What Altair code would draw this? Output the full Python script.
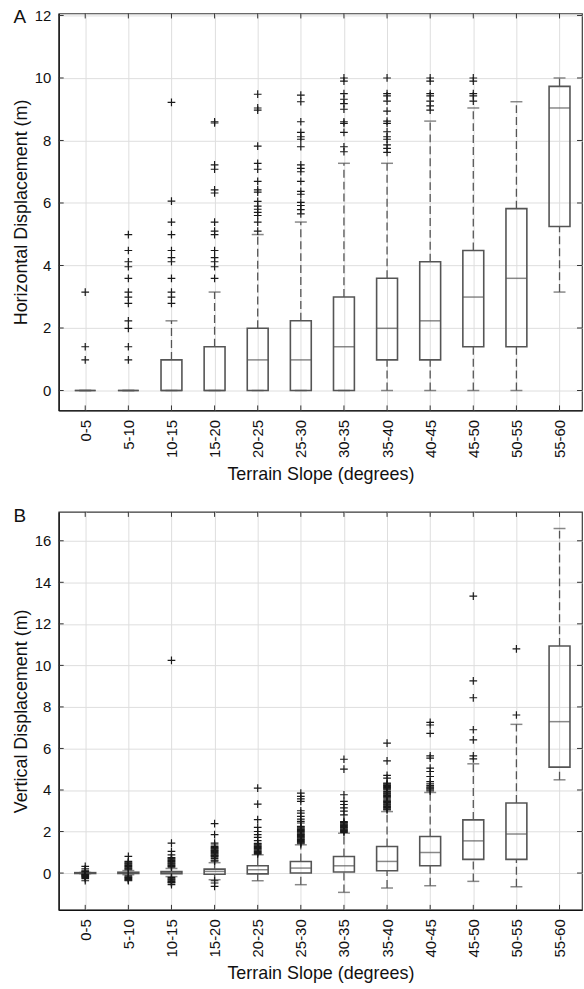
import altair as alt
import pandas as pd

cats = ["0-5", "5-10", "10-15", "15-20", "20-25", "25-30",
        "30-35", "35-40", "40-45", "45-50", "50-55", "55-60"]

# Panel A: horizontal displacement (m)
h_q1 = [0, 0, 0, 0, 0, 0, 0, 0.98, 0.98, 1.4, 1.4, 5.25]
h_med = [0, 0, 0, 0, 0.98, 0.98, 1.4, 1.99, 2.23, 2.99, 3.59, 9.04]
h_q3 = [0, 0, 0.98, 1.4, 1.99, 2.23, 2.99, 3.59, 4.12, 4.48, 5.82, 9.73]
h_wlo = [0, 0, 0, 0, 0, 0, 0, 0, 0, 0, 0, 3.15]
h_whi = [0, 0, 2.23, 3.15, 4.99, 5.39, 7.27, 7.27, 8.62, 9.04, 9.24, 10.0]
h_out = [
    [3.15, 1.4, 0.98],
    [4.99, 4.48, 4.12, 3.96, 3.59, 3.15, 2.99, 2.79, 2.23, 1.99, 1.40, 0.98],
    [9.22, 6.06, 5.39, 4.99, 4.48, 4.25, 4.12, 3.59, 3.15, 2.99, 2.79],
    [8.6, 8.56, 7.22, 7.08, 6.42, 6.32, 5.39, 5.1, 4.99, 4.48, 4.25, 4.12, 3.96, 3.59],
    [9.48, 9.04, 8.97, 7.82, 7.27, 7.08, 6.69, 6.42, 6.35, 6.05, 5.9, 5.8, 5.7, 5.6, 5.39, 5.1],
    [9.45, 9.24, 8.6, 8.26, 8.12, 8.04, 7.8, 7.22, 7.11, 7.0, 6.69, 6.37, 6.28, 6.02, 5.92, 5.79, 5.65],
    [10.0, 9.9, 9.5, 9.32, 9.18, 9.0, 8.6, 8.55, 8.26, 7.8, 7.64],
    [10.0, 9.5, 9.43, 9.26, 8.94, 8.62, 8.55, 8.28, 8.12, 8.04, 7.86, 7.75, 7.62],
    [10.0, 9.9, 9.5, 9.43, 9.26, 9.11, 8.97],
    [10.0, 9.9, 9.5, 9.43, 9.26],
    [],
    [],
]
h_ticks = [0, 2, 4, 6, 8, 10, 12]

# Panel B: vertical displacement (m)
v_q1 = [-0.02, -0.02, -0.03, -0.06, -0.04, 0.0, 0.05, 0.11, 0.35, 0.66, 0.66, 5.1]
v_med = [0.0, 0.0, 0.02, 0.08, 0.16, 0.24, 0.35, 0.56, 0.99, 1.55, 1.88, 7.29]
v_q3 = [0.02, 0.04, 0.07, 0.19, 0.35, 0.56, 0.8, 1.28, 1.76, 2.56, 3.37, 10.93]
v_wlo = [-0.03, -0.08, -0.17, -0.32, -0.37, -0.56, -0.93, -0.72, -0.61, -0.4, -0.66, 4.49]
v_whi = [0.03, 0.12, 0.22, 0.5, 0.88, 1.36, 1.92, 2.96, 3.88, 5.26, 7.16, 16.59]
v_out = [
    [0.32, 0.2, 0.11, 0.08, 0.05, -0.05, -0.08, -0.11, -0.14, -0.17, -0.21,
     -0.27, -0.37],
    [0.8, 0.56, 0.52, 0.48, 0.44, 0.4, 0.36, 0.32, 0.28, 0.24, 0.2, 0.16,
     -0.14, -0.18, -0.22, -0.26, -0.3, -0.34, -0.37],
    [10.24, 1.44, 1.04, 0.88, 0.75, 0.72, 0.68, 0.64, 0.6, 0.56, 0.52, 0.48,
     0.44, 0.4, 0.36, 0.32, 0.28, -0.21, -0.25, -0.29, -0.33, -0.37, -0.41,
     -0.45, -0.48, -0.56],
    [2.38, 1.85, 1.44, 1.35, 1.28, 1.24, 1.2, 1.16, 1.12, 1.08, 1.04, 1.0, 0.96,
     0.92, 0.88, 0.84, 0.8, 0.76, 0.7, 0.62, 0.57, -0.37, -0.48, -0.64],
    [4.09, 3.32, 2.57, 2.2, 2.0, 1.85, 1.72, 1.56, 1.43, 1.39, 1.35, 1.31, 1.27,
     1.23, 1.19, 1.15, 1.11, 1.07, 1.03, 0.99, 0.95, 0.91],
    [3.85, 3.69, 3.57, 3.45, 3.0, 2.89, 2.73, 2.6, 2.49, 2.41, 2.25, 2.21, 2.17,
     2.13, 2.09, 2.05, 2.01, 1.97, 1.93, 1.89, 1.85, 1.81, 1.77, 1.73, 1.69,
     1.65, 1.61, 1.57, 1.53, 1.49, 1.45, 1.41],
    [5.48, 5.0, 3.77, 3.45, 3.3, 3.14, 2.98, 2.8, 2.48, 2.44, 2.4, 2.36, 2.32,
     2.28, 2.24, 2.2, 2.16, 2.12, 2.08, 2.04, 2.0, 1.96],
    [6.26, 5.4, 4.7, 4.57, 4.33, 4.29, 4.25, 4.21, 4.17, 4.13, 4.09, 4.05, 4.01,
     3.93, 3.89, 3.85, 3.81, 3.77, 3.73, 3.69, 3.65, 3.61, 3.52, 3.48, 3.44,
     3.4, 3.36, 3.32, 3.28, 3.24, 3.2, 3.16, 3.12, 3.08, 3.04],
    [7.26, 7.13, 6.73, 5.64, 5.53, 5.05, 4.89, 4.65, 4.4, 4.3, 4.22, 4.15, 4.1,
     4.05, 4.0, 3.95],
    [13.33, 9.25, 8.44, 6.9, 6.41, 5.64, 5.5],
    [10.79, 7.61],
    [],
]
v_ticks = [0, 2, 4, 6, 8, 10, 12, 14, 16]

FONT = "Liberation Sans"
BOXC = "#555555"
W = 526
X_DOMAIN = [0.5, 12.406]
label_expr = "[" + ",".join('"%s"' % c for c in cats) + "][datum.value - 1]"


def panel(q1, med, q3, wlo, whi, outs, dom, ticks, ytitle, letter, H):
    idx = list(range(1, len(cats) + 1))
    stats = pd.DataFrame({"i": idx, "q1": q1, "med": med, "q3": q3,
                          "wlo": wlo, "whi": whi})
    orows = [(i, v) for i, vals in zip(idx, outs) for v in vals]
    odf = pd.DataFrame(orows, columns=["i", "v"])
    tdf = pd.DataFrame({"t": ticks})
    cdf = pd.DataFrame({"i": idx})

    xsc = alt.Scale(domain=X_DOMAIN, nice=False, zero=False)
    ysc = alt.Scale(domain=dom, nice=False, zero=False)
    xax = alt.Axis(title="Terrain Slope (degrees)", values=idx, labelExpr=label_expr,
                   labelAngle=270, labelPadding=9, titlePadding=8, grid=True,
                   ticks=False)
    yax = alt.Axis(title=ytitle, values=ticks, labelPadding=8, titlePadding=4,
                   grid=True, ticks=False)

    def X(f="i"):
        return alt.X(f + ":Q", scale=xsc, axis=xax, title="Terrain Slope (degrees)")

    def Y(f):
        return alt.Y(f + ":Q", scale=ysc, axis=yax, title=ytitle)

    base = alt.Chart(stats)
    w_lo = base.mark_rule(color=BOXC, strokeWidth=1.3, strokeDash=[8, 4]).encode(
        x=X(), y=Y("wlo"), y2="q1:Q")
    w_hi = base.mark_rule(color=BOXC, strokeWidth=1.3, strokeDash=[8, 4]).encode(
        x=X(), y=Y("q3"), y2="whi:Q")
    cap_lo = base.mark_tick(color=BOXC, size=12, thickness=1.5,
                            orient="horizontal").encode(x=X(), y=Y("wlo"))
    cap_hi = base.mark_tick(color=BOXC, size=12, thickness=1.5,
                            orient="horizontal").encode(x=X(), y=Y("whi"))
    box = base.mark_bar(fillOpacity=0, stroke=BOXC, strokeWidth=1.6, size=21,
                        orient="vertical").encode(x=X(), y=Y("q1"), y2="q3:Q")
    medl = base.mark_tick(color=BOXC, size=21, thickness=1.5,
                          orient="horizontal").encode(x=X(), y=Y("med"))
    pts = alt.Chart(odf).mark_point(shape="M-1,0H1M0,-1V1", size=60, filled=False,
                                    stroke="#1a1a1a", strokeWidth=1.2,
                                    opacity=1).encode(x=X(), y=Y("v"))
    # inner tick marks (MATLAB style) on all four sides
    tk_top = alt.Chart(cdf).mark_rule(color="#333", strokeWidth=1).encode(
        x=X(), y=alt.value(0), y2=alt.value(5))
    tk_bot = alt.Chart(cdf).mark_rule(color="#333", strokeWidth=1).encode(
        x=X(), y=alt.value(H - 5), y2=alt.value(H))
    tk_l = alt.Chart(tdf).mark_rule(color="#333", strokeWidth=1).encode(
        y=Y("t"), x=alt.value(0), x2=alt.value(5))
    tk_r = alt.Chart(tdf).mark_rule(color="#333", strokeWidth=1).encode(
        y=Y("t"), x=alt.value(W - 5), x2=alt.value(W))
    lab = alt.Chart(pd.DataFrame({"s": [letter]})).mark_text(
        font=FONT, fontSize=19, color="#111", align="center", baseline="middle").encode(
        text="s:N", x=alt.value(-39), y=alt.value(4))

    return alt.layer(w_lo, w_hi, cap_lo, cap_hi, box, medl, pts,
                     tk_top, tk_bot, tk_l, tk_r, lab).properties(width=W, height=H)


top = panel(h_q1, h_med, h_q3, h_wlo, h_whi, h_out, [-0.637, 12.064], h_ticks,
            "Horizontal Displacement (m)", "A", 399)
bot = panel(v_q1, v_med, v_q3, v_wlo, v_whi, v_out, [-1.772, 17.39], v_ticks,
            "Vertical Displacement (m)", "B", 400)

chart = alt.vconcat(top, bot, spacing=102, bounds="flush").properties(
    padding={"left": 11, "top": 5, "right": 0, "bottom": 0},
    background="white",
).configure_view(
    stroke="#3a3a3a", strokeWidth=1.2
).configure_axis(
    labelFont=FONT, titleFont=FONT, labelFontSize=15, titleFontSize=18,
    titleFontWeight="normal", labelColor="#111", titleColor="#111",
    domainColor="#111", domainWidth=1.3, gridColor="#dedede", gridWidth=1,
)

chart.save("out.html", embed_options={"renderer": "svg", "actions": False})
